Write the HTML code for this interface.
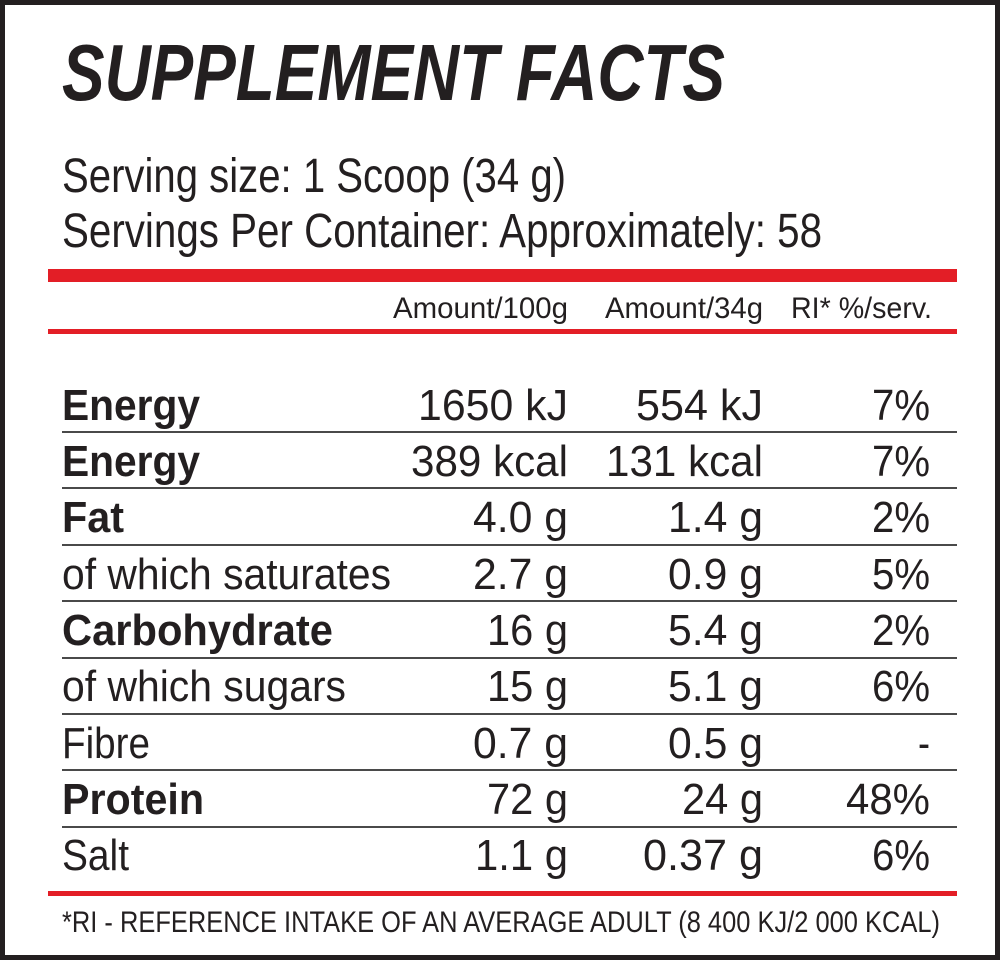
<!DOCTYPE html>
<html><head><meta charset="utf-8"><style>
html,body{margin:0;padding:0;background:#fff}
svg{display:block}
text{font-family:"Liberation Sans Narrow","Liberation Sans",sans-serif;fill:#231f20}
.b{font-weight:bold}
</style></head><body>
<svg width="1000" height="960" viewBox="0 0 1000 960" xmlns="http://www.w3.org/2000/svg">
<rect x="2.5" y="2.5" width="995" height="955" fill="#fff" stroke="#231f20" stroke-width="5"/>
<text x="62" y="100" class="b" font-style="italic" font-size="80" textLength="663" lengthAdjust="spacingAndGlyphs">SUPPLEMENT FACTS</text>
<text x="62" y="192" font-size="48" textLength="504" lengthAdjust="spacingAndGlyphs">Serving size: 1 Scoop (34 g)</text>
<text x="62" y="247" font-size="48" textLength="760" lengthAdjust="spacingAndGlyphs">Servings Per Container: Approximately: 58</text>
<rect x="48" y="269" width="909" height="13" fill="#e31e26"/>
<rect x="48" y="329" width="909" height="5" fill="#e31e26"/>
<rect x="48" y="891" width="909" height="5" fill="#e31e26"/>
<g font-size="30" text-anchor="end">
<text x="568" y="318" textLength="175" lengthAdjust="spacingAndGlyphs">Amount/100g</text>
<text x="763" y="318" textLength="158" lengthAdjust="spacingAndGlyphs">Amount/34g</text>
<text x="932" y="318" textLength="141" lengthAdjust="spacingAndGlyphs">RI* %/serv.</text>
</g>
<g fill="#4a4a4a">
<rect x="62" y="431" width="895" height="2"/>
<rect x="62" y="487" width="895" height="2"/>
<rect x="62" y="544" width="895" height="2"/>
<rect x="62" y="600" width="895" height="2"/>
<rect x="62" y="657" width="895" height="2"/>
<rect x="62" y="713" width="895" height="2"/>
<rect x="62" y="769" width="895" height="2"/>
<rect x="62" y="826" width="895" height="2"/>
</g>
<g font-size="44">
<text x="62" y="420" class="b" textLength="138" lengthAdjust="spacingAndGlyphs">Energy</text>
<text x="62" y="476" class="b" textLength="138" lengthAdjust="spacingAndGlyphs">Energy</text>
<text x="62" y="532" class="b" textLength="62" lengthAdjust="spacingAndGlyphs">Fat</text>
<text x="62" y="589" textLength="329" lengthAdjust="spacingAndGlyphs">of which saturates</text>
<text x="62" y="645" class="b" textLength="271" lengthAdjust="spacingAndGlyphs">Carbohydrate</text>
<text x="62" y="701" textLength="284" lengthAdjust="spacingAndGlyphs">of which sugars</text>
<text x="62" y="758" textLength="88" lengthAdjust="spacingAndGlyphs">Fibre</text>
<text x="62" y="814" class="b" textLength="142" lengthAdjust="spacingAndGlyphs">Protein</text>
<text x="62" y="870" textLength="67" lengthAdjust="spacingAndGlyphs">Salt</text>
</g>
<g font-size="44" text-anchor="end">
<text x="568" y="420" textLength="150" lengthAdjust="spacingAndGlyphs">1650 kJ</text>
<text x="568" y="476" textLength="157" lengthAdjust="spacingAndGlyphs">389 kcal</text>
<text x="568" y="532" textLength="95" lengthAdjust="spacingAndGlyphs">4.0 g</text>
<text x="568" y="589" textLength="95" lengthAdjust="spacingAndGlyphs">2.7 g</text>
<text x="568" y="645" textLength="81" lengthAdjust="spacingAndGlyphs">16 g</text>
<text x="568" y="701" textLength="81" lengthAdjust="spacingAndGlyphs">15 g</text>
<text x="568" y="758" textLength="95" lengthAdjust="spacingAndGlyphs">0.7 g</text>
<text x="568" y="814" textLength="81" lengthAdjust="spacingAndGlyphs">72 g</text>
<text x="568" y="870" textLength="93" lengthAdjust="spacingAndGlyphs">1.1 g</text>
<text x="763" y="420" textLength="127" lengthAdjust="spacingAndGlyphs">554 kJ</text>
<text x="763" y="476" textLength="157" lengthAdjust="spacingAndGlyphs">131 kcal</text>
<text x="763" y="532" textLength="95" lengthAdjust="spacingAndGlyphs">1.4 g</text>
<text x="763" y="589" textLength="95" lengthAdjust="spacingAndGlyphs">0.9 g</text>
<text x="763" y="645" textLength="95" lengthAdjust="spacingAndGlyphs">5.4 g</text>
<text x="763" y="701" textLength="95" lengthAdjust="spacingAndGlyphs">5.1 g</text>
<text x="763" y="758" textLength="95" lengthAdjust="spacingAndGlyphs">0.5 g</text>
<text x="763" y="814" textLength="81" lengthAdjust="spacingAndGlyphs">24 g</text>
<text x="763" y="870" textLength="120" lengthAdjust="spacingAndGlyphs">0.37 g</text>
<text x="930" y="420" textLength="58" lengthAdjust="spacingAndGlyphs">7%</text>
<text x="930" y="476" textLength="58" lengthAdjust="spacingAndGlyphs">7%</text>
<text x="930" y="532" textLength="58" lengthAdjust="spacingAndGlyphs">2%</text>
<text x="930" y="589" textLength="58" lengthAdjust="spacingAndGlyphs">5%</text>
<text x="930" y="645" textLength="58" lengthAdjust="spacingAndGlyphs">2%</text>
<text x="930" y="701" textLength="58" lengthAdjust="spacingAndGlyphs">6%</text>
<text x="930" y="758" textLength="12" lengthAdjust="spacingAndGlyphs">-</text>
<text x="930" y="814" textLength="84" lengthAdjust="spacingAndGlyphs">48%</text>
<text x="930" y="870" textLength="58" lengthAdjust="spacingAndGlyphs">6%</text>
</g>
<text x="62" y="932" font-size="30" textLength="878" lengthAdjust="spacingAndGlyphs">*RI - REFERENCE INTAKE OF AN AVERAGE ADULT (8 400 KJ/2 000 KCAL)</text>
</svg>
</body></html>
